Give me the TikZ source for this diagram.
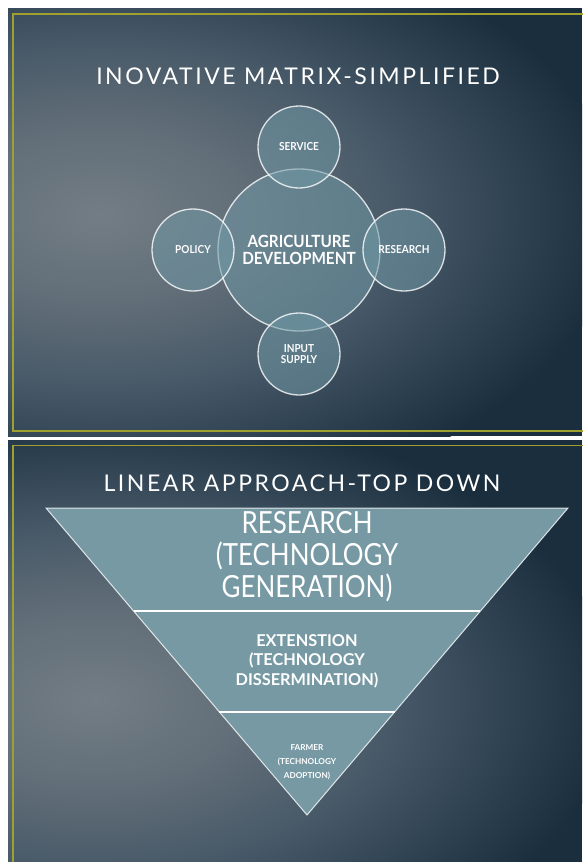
\documentclass[tikz,border=0pt]{standalone}
\usepackage{fontspec}
\setmainfont{Lato}
\newfontfamily\titlefont[LetterSpace=11]{Lato}
\newfontfamily\narrowfont[FakeStretch=0.85]{Lato}
\newfontfamily\bubblefont[FakeStretch=0.91]{Lato}
\definecolor{slidedark}{RGB}{26,46,61}
\definecolor{frameyel}{RGB}{160,160,48}
\definecolor{bubblefill}{RGB}{112,152,165}
\definecolor{trifill}{RGB}{118,153,164}
\pgfdeclareradialshading{slidebg}{\pgfpointorigin}{rgb(0bp)=(0.45,0.49,0.52); rgb(7.5bp)=(0.38,0.43,0.47); rgb(15bp)=(0.27,0.34,0.40); rgb(25bp)=(0.10,0.18,0.24); rgb(50bp)=(0.10,0.18,0.24)}
\begin{document}
\begin{tikzpicture}[x=1pt,y=-1pt,
  slideframe/.style={draw=frameyel,line width=1.4pt},
  titletext/.style={text=white,inner sep=0pt,font=\titlefont\fontsize{23}{26}\selectfont},
  bubble/.style={circle,draw=white,draw opacity=0.8,line width=1.3pt,fill=bubblefill,fill opacity=0.55,text opacity=1,text=white,align=center,inner sep=0pt},
  bigbubble/.style={bubble,minimum size=162pt,font=\bubblefont\bfseries\fontsize{16.8}{16.5}\selectfont},
  smallbubble/.style={bubble,minimum size=82pt,font=\bubblefont\bfseries\fontsize{11}{11.5}\selectfont},
  tritext/.style={text=white,align=center,inner sep=0pt}]
\useasboundingbox (0,0) rectangle (582,862);
\fill[white] (0,0) rectangle (582,862);
% slide 1 background
\begin{scope}
  \clip (8,8) rectangle (582,436);
  \fill[slidedark] (8,8) rectangle (582,436);
  \shade[shading=slidebg] (100,215) ellipse [x radius=520pt, y radius=300pt];
\end{scope}
\coordinate (f1a) at (590,14);
\coordinate (f1b) at (13,14);
\coordinate (f1c) at (13,431);
\coordinate (f1d) at (590,431);
\draw[slideframe] (f1a) -- (f1b) -- (f1c) -- (f1d);
% slide 2 background
\begin{scope}
  \clip (8,440) rectangle (582,862);
  \fill[slidedark] (8,440) rectangle (582,862);
  \shade[shading=slidebg] (95,700) ellipse [x radius=520pt, y radius=300pt];
\end{scope}
\coordinate (f2a) at (590,445.5);
\coordinate (f2b) at (13,445.5);
\coordinate (f2c) at (13,870);
\draw[slideframe] (f2a) -- (f2b) -- (f2c);
% titles
\node[titletext] (title1) at (298,76) {INOVATIVE MATRIX-SIMPLIFIED};
\node[titletext] (title2) at (302,483) {LINEAR APPROACH-TOP DOWN};
% circles
\node[bigbubble] (agri) at (299,250) {AGRICULTURE\\DEVELOPMENT};
\node[smallbubble] (service) at (299,147) {SERVICE};
\node[smallbubble] (policy) at (193,250) {POLICY};
\node[smallbubble] (research) at (404,250) {RESEARCH};
\node[smallbubble] (input) at (299,354) {INPUT\\SUPPLY};
% triangle
\coordinate (tl) at (46,508);
\coordinate (tr) at (568,508);
\coordinate (ap) at (307,815);
\coordinate (d1l) at (133.6,611);
\coordinate (d1r) at (480.4,611);
\coordinate (d2l) at (219.4,712);
\coordinate (d2r) at (394.6,712);
\fill[trifill] (tl) -- (tr) -- (ap) -- cycle;
\draw[white,line width=2.2pt] (d1l) -- (d1r);
\draw[white,line width=2.2pt] (d2l) -- (d2r);
\draw[white,draw opacity=0.8,line width=1pt,line join=miter] (tl) -- (tr) -- (ap) -- cycle;
\node[tritext,font=\narrowfont\fontsize{30.5}{32}\selectfont] (gen) at (307,557) {RESEARCH\\(TECHNOLOGY\\GENERATION)};
\node[tritext,font=\bfseries\fontsize{16.3}{19.5}\selectfont] (diss) at (307,661) {EXTENSTION\\(TECHNOLOGY\\DISSERMINATION)};
\node[tritext,font=\bfseries\fontsize{8.2}{14}\selectfont] (adopt) at (307,762) {FARMER\\(TECHNOLOGY\\ADOPTION)};
\end{tikzpicture}
\end{document}
